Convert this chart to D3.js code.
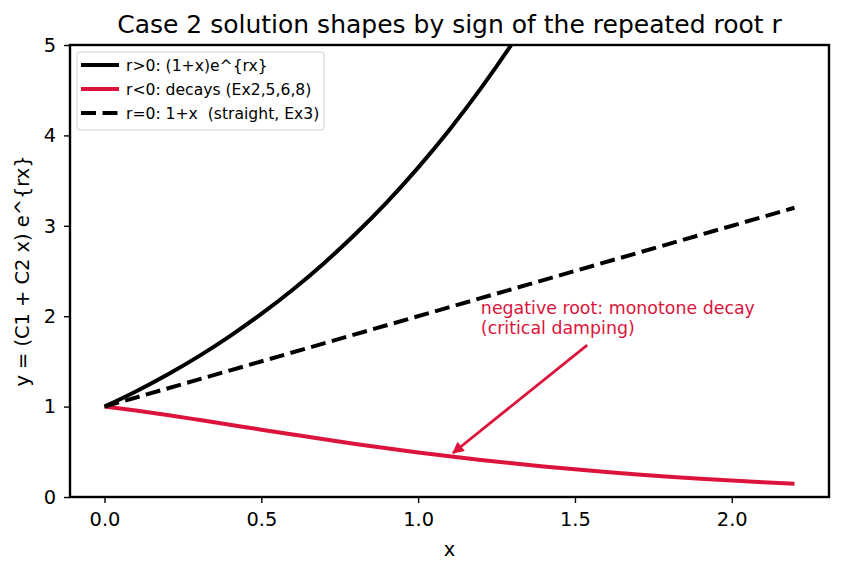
<!DOCTYPE html>
<html>
<head>
<meta charset="utf-8">
<script src="https://cdn.jsdelivr.net/npm/d3@7"></script>
<style>
  body { margin: 0; background: #fff; }
  text { font-family: "DejaVu Sans", sans-serif; white-space: pre; }
</style>
</head>
<body>
<script>
let w = 842;
let h = 573;
let margin = {top: 45, right: 13, bottom: 76, left: 70};

// values
let xGrowth = [0, 0.1, 0.2, 0.3, 0.4, 0.5, 0.6, 0.7, 0.8, 0.9, 1.0, 1.1, 1.2, 1.3, 1.4];
let yGrowth = [1, 1.168, 1.353, 1.556, 1.780, 2.025, 2.293, 2.587, 2.909, 3.260, 3.644, 4.063, 4.520, 5.017, 5.56];

let xDecay = [0, 0.1, 0.2, 0.3, 0.4, 0.5, 0.6, 0.7, 0.8, 0.9, 1.0, 1.1, 1.2, 1.3, 1.4, 1.5, 1.6, 1.7, 1.8, 1.9, 2.0, 2.1, 2.2];
let yDecay = [1, 0.956, 0.907, 0.854, 0.800, 0.745, 0.691, 0.638, 0.587, 0.539, 0.493, 0.450, 0.410, 0.373, 0.338, 0.306, 0.277, 0.250, 0.225, 0.203, 0.182, 0.164, 0.147];

let xFlat = [0, 1.1, 2.2];
let yFlat = [1, 2.1, 3.2];

let xTicks = [0, 0.5, 1.0, 1.5, 2.0];
let yTicks = [0, 1, 2, 3, 4, 5];

let legendLabels = ["r>0: (1+x)e^{rx}", "r<0: decays (Ex2,5,6,8)", "r=0: 1+x  (straight, Ex3)"];
let noteLines = ["negative root: monotone decay", "(critical damping)"];
let noteAt = [1.2, 2.02];
let arrowFrom = [1.539, 1.68];
let arrowTo = [1.111, 0.487];

let crimson = "#dc143c";

let xScale = d3.scaleLinear()
  .domain([-0.11, 2.31])
  .range([margin.left, w - margin.right]);

let yScale = d3.scaleLinear()
  .domain([0, 5])
  .range([h - margin.bottom, margin.top]);

let svg = d3.select("body")
  .append("svg")
  .attr("width", w)
  .attr("height", h);

svg.append("clipPath")
  .attr("id", "chart-area")
  .append("rect")
  .attr("x", margin.left)
  .attr("y", margin.top)
  .attr("width", w - margin.left - margin.right)
  .attr("height", h - margin.top - margin.bottom);

let line = d3.line()
  .curve(d3.curveMonotoneX)
  .x((d) => { return xScale(d[0]); })
  .y((d) => { return yScale(d[1]); });

let series = [
  {xs: xGrowth, ys: yGrowth, color: "#000", dash: null},
  {xs: xDecay, ys: yDecay, color: crimson, dash: null},
  {xs: xFlat, ys: yFlat, color: "#000", dash: "15,6.5"}
];

let plot = svg.append("g").attr("clip-path", "url(#chart-area)");

series.forEach((s) => {
  let pts = s.xs.map((x, i) => { return [x, s.ys[i]]; });
  plot.append("path")
    .datum(pts)
    .attr("fill", "none")
    .attr("stroke", s.color)
    .attr("stroke-width", 4)
    .attr("stroke-dasharray", s.dash)
    .attr("d", line);
});

// axes
let xAxis = d3.axisBottom(xScale)
  .tickValues(xTicks)
  .tickFormat(d3.format(".1f"))
  .tickSizeInner(6)
  .tickSizeOuter(0)
  .tickPadding(9);

let yAxis = d3.axisLeft(yScale)
  .tickValues(yTicks)
  .tickFormat(d3.format("d"))
  .tickSizeInner(6)
  .tickSizeOuter(0)
  .tickPadding(8);

let gx = svg.append("g")
  .attr("transform", "translate(0," + (h - margin.bottom) + ")")
  .call(xAxis);

let gy = svg.append("g")
  .attr("transform", "translate(" + margin.left + ",0)")
  .call(yAxis);

[gx, gy].forEach((g) => {
  g.select(".domain").remove();
  g.selectAll("line").attr("stroke", "#000").attr("stroke-width", 1.4);
  g.selectAll("text")
    .attr("fill", "#000")
    .style("font-size", "19.4px")
    .style("font-family", "DejaVu Sans, sans-serif");
});

svg.append("rect")
  .attr("x", margin.left)
  .attr("y", margin.top)
  .attr("width", w - margin.left - margin.right)
  .attr("height", h - margin.top - margin.bottom)
  .attr("fill", "none")
  .attr("stroke", "#000")
  .attr("stroke-width", 2.4);

// title and axis labels
svg.append("text")
  .attr("x", (margin.left + w - margin.right) / 2)
  .attr("y", 33)
  .attr("text-anchor", "middle")
  .style("font-size", "25px")
  .text("Case 2 solution shapes by sign of the repeated root r");

svg.append("text")
  .attr("x", (margin.left + w - margin.right) / 2)
  .attr("y", 556)
  .attr("text-anchor", "middle")
  .style("font-size", "19.4px")
  .text("x");

svg.append("text")
  .attr("transform", "translate(29," + ((margin.top + h - margin.bottom) / 2) + ") rotate(-90)")
  .attr("text-anchor", "middle")
  .style("font-size", "19.4px")
  .text("y = (C1 + C2 x) e^{rx}");

// annotation
svg.append("defs")
  .append("marker")
  .attr("id", "head")
  .attr("viewBox", "0 0 10 10")
  .attr("refX", 9)
  .attr("refY", 5)
  .attr("markerWidth", 5)
  .attr("markerHeight", 4.2)
  .attr("orient", "auto")
  .attr("markerUnits", "strokeWidth")
  .append("path")
  .attr("d", "M0,0 L10,5 L0,10 Z")
  .attr("fill", crimson);

svg.append("line")
  .attr("x1", xScale(arrowFrom[0]))
  .attr("y1", yScale(arrowFrom[1]))
  .attr("x2", xScale(arrowTo[0]))
  .attr("y2", yScale(arrowTo[1]))
  .attr("stroke", crimson)
  .attr("stroke-width", 2.8)
  .attr("marker-end", "url(#head)");

svg.append("text")
  .attr("x", xScale(noteAt[0]))
  .attr("y", yScale(noteAt[1]))
  .attr("fill", crimson)
  .style("font-size", "17.4px")
  .selectAll("tspan")
  .data(noteLines)
  .enter()
  .append("tspan")
  .attr("x", xScale(noteAt[0]))
  .attr("dy", (d, i) => { return i === 0 ? 0 : 19.5; })
  .text((d) => { return d; });

// legend
let legend = svg.append("g").attr("transform", "translate(77,52)");

legend.append("rect")
  .attr("width", 247)
  .attr("height", 78)
  .attr("rx", 3)
  .attr("fill", "#fff")
  .attr("fill-opacity", 0.8)
  .attr("stroke", "#d0d0d0")
  .attr("stroke-width", 1);

legendLabels.forEach((label, i) => {
  let yy = 13 + i * 24;
  legend.append("line")
    .attr("x1", 4)
    .attr("x2", 42)
    .attr("y1", yy)
    .attr("y2", yy)
    .attr("stroke", series[i].color)
    .attr("stroke-width", 4)
    .attr("stroke-dasharray", series[i].dash);
  legend.append("text")
    .attr("x", 49)
    .attr("y", yy + 5.5)
    .style("font-size", "15.6px")
    .text(label);
});
</script>
</body>
</html>
